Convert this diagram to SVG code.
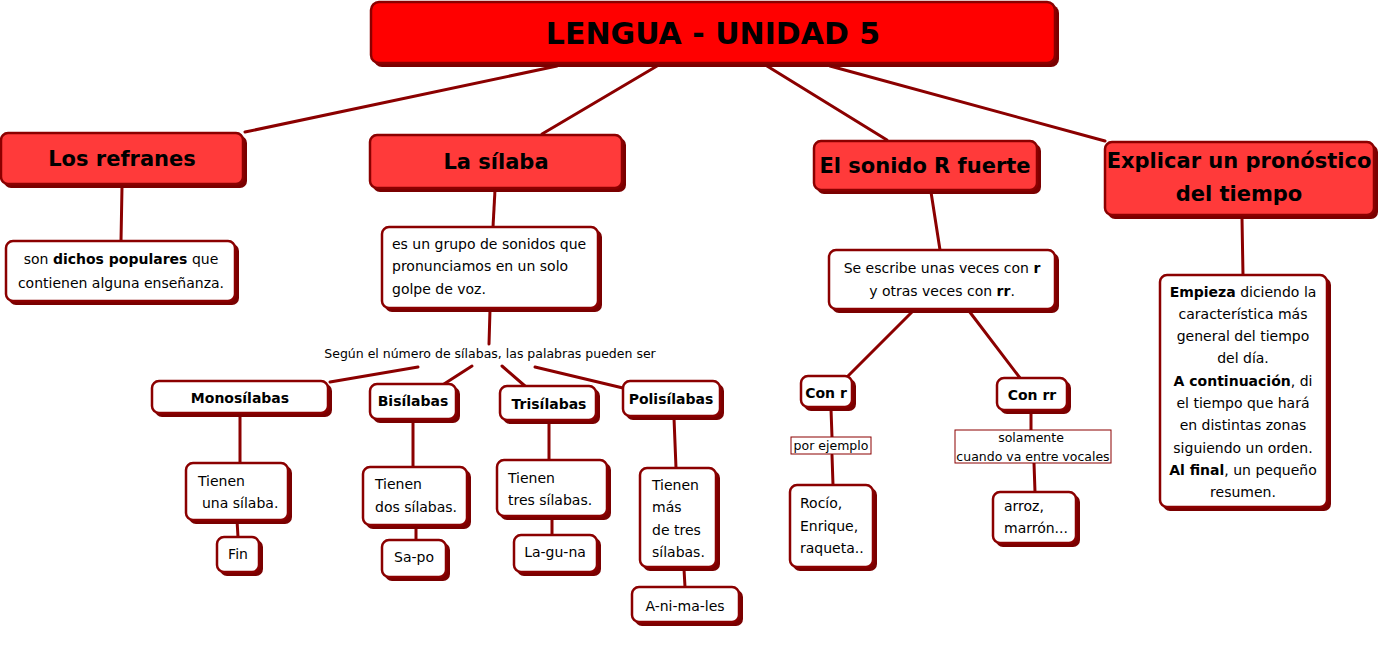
<svg xmlns="http://www.w3.org/2000/svg" width="1381" height="656" viewBox="0 0 1381 656">
<style>
text{font-family:"Comic Sans MS","DejaVu Sans",sans-serif;fill:#000}
.sh{fill:#7a0000}
.top{fill:#ff0000;stroke:#8b0000;stroke-width:2.5}
.l2{fill:#ff3a3a;stroke:#8b0000;stroke-width:2.5}
.wb{fill:#fff;stroke:#8b0000;stroke-width:2.5}
.tb{fill:#fff;stroke:#8b0000;stroke-width:1}
.c line{stroke:#8b0000;stroke-width:3;stroke-linecap:round}
.t1{font-size:30px;font-weight:bold}
.t2{font-size:21px;font-weight:bold}
.t3{font-size:14px}
.t3b{font-size:14px;font-weight:bold}
.t4{font-size:12.5px}
.b{font-weight:bold}
.m{text-anchor:middle}
</style>
<rect width="1381" height="656" fill="#fff"/>
<g class="c">
<line x1="557" y1="66" x2="245" y2="132"/>
<line x1="657" y1="66" x2="542" y2="134"/>
<line x1="767" y1="66" x2="887" y2="140"/>
<line x1="830" y1="66" x2="1105" y2="141"/>
<line x1="122" y1="187" x2="121" y2="241"/>
<line x1="495" y1="190" x2="493" y2="227"/>
<line x1="490" y1="310" x2="489" y2="344"/>
<line x1="418" y1="367" x2="330" y2="382"/>
<line x1="472" y1="366" x2="444" y2="384"/>
<line x1="502" y1="366" x2="525" y2="386"/>
<line x1="535" y1="367" x2="623" y2="388"/>
<line x1="240" y1="416" x2="240" y2="463"/>
<line x1="237" y1="520" x2="238" y2="537"/>
<line x1="413" y1="419" x2="413" y2="467"/>
<line x1="416" y1="525" x2="416" y2="540"/>
<line x1="549" y1="423" x2="549" y2="460"/>
<line x1="552" y1="518" x2="552" y2="535"/>
<line x1="674" y1="418" x2="676" y2="468"/>
<line x1="684" y1="569" x2="685" y2="587"/>
<line x1="931" y1="192" x2="940" y2="250"/>
<line x1="913" y1="311" x2="848" y2="376"/>
<line x1="969" y1="311" x2="1020" y2="378"/>
<line x1="831" y1="409" x2="832" y2="437"/>
<line x1="832" y1="455" x2="833" y2="485"/>
<line x1="1031" y1="412" x2="1031" y2="430"/>
<line x1="1034" y1="463" x2="1035" y2="492"/>
<line x1="1242" y1="218" x2="1243" y2="275"/>
</g>
<g id="n-title">
<rect class="sh" x="374" y="5" width="685" height="62" rx="8"/>
<rect class="top" x="371" y="2" width="684" height="61" rx="8"/>
<text class="t1 m" x="713" y="44">LENGUA - UNIDAD 5</text>
</g>
<g id="n-refranes">
<rect class="sh" x="4" y="136" width="243" height="52" rx="7"/>
<rect class="l2" x="1" y="133" width="242" height="51" rx="7"/>
<text class="t2 m" x="122" y="166">Los refranes</text>
</g>
<g id="n-silaba">
<rect class="sh" x="373" y="138" width="253" height="54" rx="7"/>
<rect class="l2" x="370" y="135" width="252" height="53" rx="7"/>
<text class="t2 m" x="496" y="169">La sílaba</text>
</g>
<g id="n-sonido">
<rect class="sh" x="817" y="144" width="224" height="50" rx="7"/>
<rect class="l2" x="814" y="141" width="223" height="49" rx="7"/>
<text class="t2 m" x="925" y="173">El sonido R fuerte</text>
</g>
<g id="n-explicar">
<rect class="sh" x="1108" y="145" width="270" height="74" rx="7"/>
<rect class="l2" x="1105" y="142" width="269" height="73" rx="7"/>
<text class="t2 m" x="1239" y="168">Explicar un pronóstico</text>
<text class="t2 m" x="1239" y="201">del tiempo</text>
</g>
<g id="n-dichos">
<rect class="sh" x="9" y="244" width="230" height="61" rx="7"/>
<rect class="wb" x="6" y="241" width="229" height="60" rx="7"/>
<text class="t3 m" x="121" y="264">son <tspan class="b">dichos populares</tspan> que</text>
<text class="t3 m" x="121" y="288">contienen alguna enseñanza.</text>
</g>
<g id="n-grupo">
<rect class="sh" x="385" y="230" width="217" height="82" rx="7"/>
<rect class="wb" x="382" y="227" width="216" height="81" rx="7"/>
<text class="t3" x="392" y="249">es un grupo de sonidos que</text>
<text class="t3" x="392" y="271">pronunciamos en un solo</text>
<text class="t3" x="392" y="294">golpe de voz.</text>
</g>
<g id="n-segun">
<text class="t4 m" x="490" y="358">Según el número de sílabas, las palabras pueden ser</text>
</g>
<g id="n-mono">
<rect class="sh" x="155" y="384" width="177" height="33" rx="7"/>
<rect class="wb" x="152" y="381" width="176" height="32" rx="7"/>
<text class="t3b m" x="240" y="403">Monosílabas</text>
</g>
<g id="n-bi">
<rect class="sh" x="373" y="387" width="87" height="36" rx="7"/>
<rect class="wb" x="370" y="384" width="86" height="35" rx="7"/>
<text class="t3b m" x="413" y="406">Bisílabas</text>
</g>
<g id="n-tri">
<rect class="sh" x="503" y="389" width="97" height="35" rx="7"/>
<rect class="wb" x="500" y="386" width="96" height="34" rx="7"/>
<text class="t3b m" x="549" y="409">Trisílabas</text>
</g>
<g id="n-poli">
<rect class="sh" x="626" y="384" width="98" height="36" rx="7"/>
<rect class="wb" x="623" y="381" width="97" height="35" rx="7"/>
<text class="t3b m" x="671" y="404">Polisílabas</text>
</g>
<g id="n-una">
<rect class="sh" x="189" y="466" width="103" height="58" rx="7"/>
<rect class="wb" x="186" y="463" width="102" height="57" rx="7"/>
<text class="t3" x="198" y="486">Tienen</text>
<text class="t3" x="202" y="508">una sílaba.</text>
</g>
<g id="n-fin">
<rect class="sh" x="220" y="540" width="43" height="36" rx="7"/>
<rect class="wb" x="217" y="537" width="42" height="35" rx="7"/>
<text class="t3 m" x="238" y="559">Fin</text>
</g>
<g id="n-dos">
<rect class="sh" x="366" y="470" width="105" height="59" rx="7"/>
<rect class="wb" x="363" y="467" width="104" height="58" rx="7"/>
<text class="t3" x="375" y="489">Tienen</text>
<text class="t3" x="375" y="512">dos sílabas.</text>
</g>
<g id="n-sapo">
<rect class="sh" x="385" y="543" width="65" height="38" rx="7"/>
<rect class="wb" x="382" y="540" width="64" height="37" rx="7"/>
<text class="t3 m" x="414" y="562">Sa-po</text>
</g>
<g id="n-tres">
<rect class="sh" x="500" y="463" width="111" height="57" rx="7"/>
<rect class="wb" x="497" y="460" width="110" height="56" rx="7"/>
<text class="t3" x="508" y="483">Tienen</text>
<text class="t3" x="508" y="505">tres sílabas.</text>
</g>
<g id="n-laguna">
<rect class="sh" x="517" y="538" width="84" height="38" rx="7"/>
<rect class="wb" x="514" y="535" width="83" height="37" rx="7"/>
<text class="t3 m" x="555" y="557">La-gu-na</text>
</g>
<g id="n-mas">
<rect class="sh" x="643" y="471" width="77" height="100" rx="7"/>
<rect class="wb" x="640" y="468" width="76" height="99" rx="7"/>
<text class="t3" x="652" y="490">Tienen</text>
<text class="t3" x="652" y="512">más</text>
<text class="t3" x="652" y="535">de tres</text>
<text class="t3" x="652" y="557">sílabas.</text>
</g>
<g id="n-animales">
<rect class="sh" x="635" y="590" width="108" height="36" rx="7"/>
<rect class="wb" x="632" y="587" width="107" height="35" rx="7"/>
<text class="t3 m" x="685" y="611">A-ni-ma-les</text>
</g>
<g id="n-escribe">
<rect class="sh" x="832" y="253" width="227" height="60" rx="7"/>
<rect class="wb" x="829" y="250" width="226" height="59" rx="7"/>
<text class="t3 m" x="942" y="273">Se escribe unas veces con <tspan class="b">r</tspan></text>
<text class="t3 m" x="942" y="296">y otras veces con <tspan class="b">rr</tspan>.</text>
</g>
<g id="n-conr">
<rect class="sh" x="804" y="379" width="52" height="32" rx="7"/>
<rect class="wb" x="801" y="376" width="51" height="31" rx="7"/>
<text class="t3b m" x="826" y="398">Con r</text>
</g>
<g id="n-conrr">
<rect class="sh" x="1000" y="381" width="71" height="33" rx="7"/>
<rect class="wb" x="997" y="378" width="70" height="32" rx="7"/>
<text class="t3b m" x="1032" y="400">Con rr</text>
</g>
<g id="n-ejemplo">
<rect class="tb" x="791" y="437" width="80" height="17"/>
<text class="t4 m" x="831" y="450">por ejemplo</text>
</g>
<g id="n-solamente">
<rect class="tb" x="955" y="430" width="156" height="33"/>
<text class="t4 m" x="1031" y="442">solamente</text>
<text class="t4 m" x="1033" y="461">cuando va entre vocales</text>
</g>
<g id="n-rocio">
<rect class="sh" x="793" y="488" width="84" height="83" rx="7"/>
<rect class="wb" x="790" y="485" width="83" height="82" rx="7"/>
<text class="t3" x="800" y="508">Rocío,</text>
<text class="t3" x="800" y="531">Enrique,</text>
<text class="t3" x="800" y="553">raqueta..</text>
</g>
<g id="n-arroz">
<rect class="sh" x="996" y="495" width="84" height="52" rx="7"/>
<rect class="wb" x="993" y="492" width="83" height="51" rx="7"/>
<text class="t3" x="1004" y="511">arroz,</text>
<text class="t3" x="1004" y="533">marrón...</text>
</g>
<g id="n-empieza">
<rect class="sh" x="1163" y="278" width="168" height="233" rx="7"/>
<rect class="wb" x="1160" y="275" width="167" height="232" rx="7"/>
<text class="t3 m" x="1243" y="297"><tspan class="b">Empieza</tspan> diciendo la</text>
<text class="t3 m" x="1243" y="319">característica más</text>
<text class="t3 m" x="1243" y="341">general del tiempo</text>
<text class="t3 m" x="1243" y="363">del día.</text>
<text class="t3 m" x="1243" y="386"><tspan class="b">A continuación</tspan>, di</text>
<text class="t3 m" x="1243" y="408">el tiempo que hará</text>
<text class="t3 m" x="1243" y="430">en distintas zonas</text>
<text class="t3 m" x="1243" y="453">siguiendo un orden.</text>
<text class="t3 m" x="1243" y="475"><tspan class="b">Al final</tspan>, un pequeño</text>
<text class="t3 m" x="1243" y="497">resumen.</text>
</g>
</svg>
